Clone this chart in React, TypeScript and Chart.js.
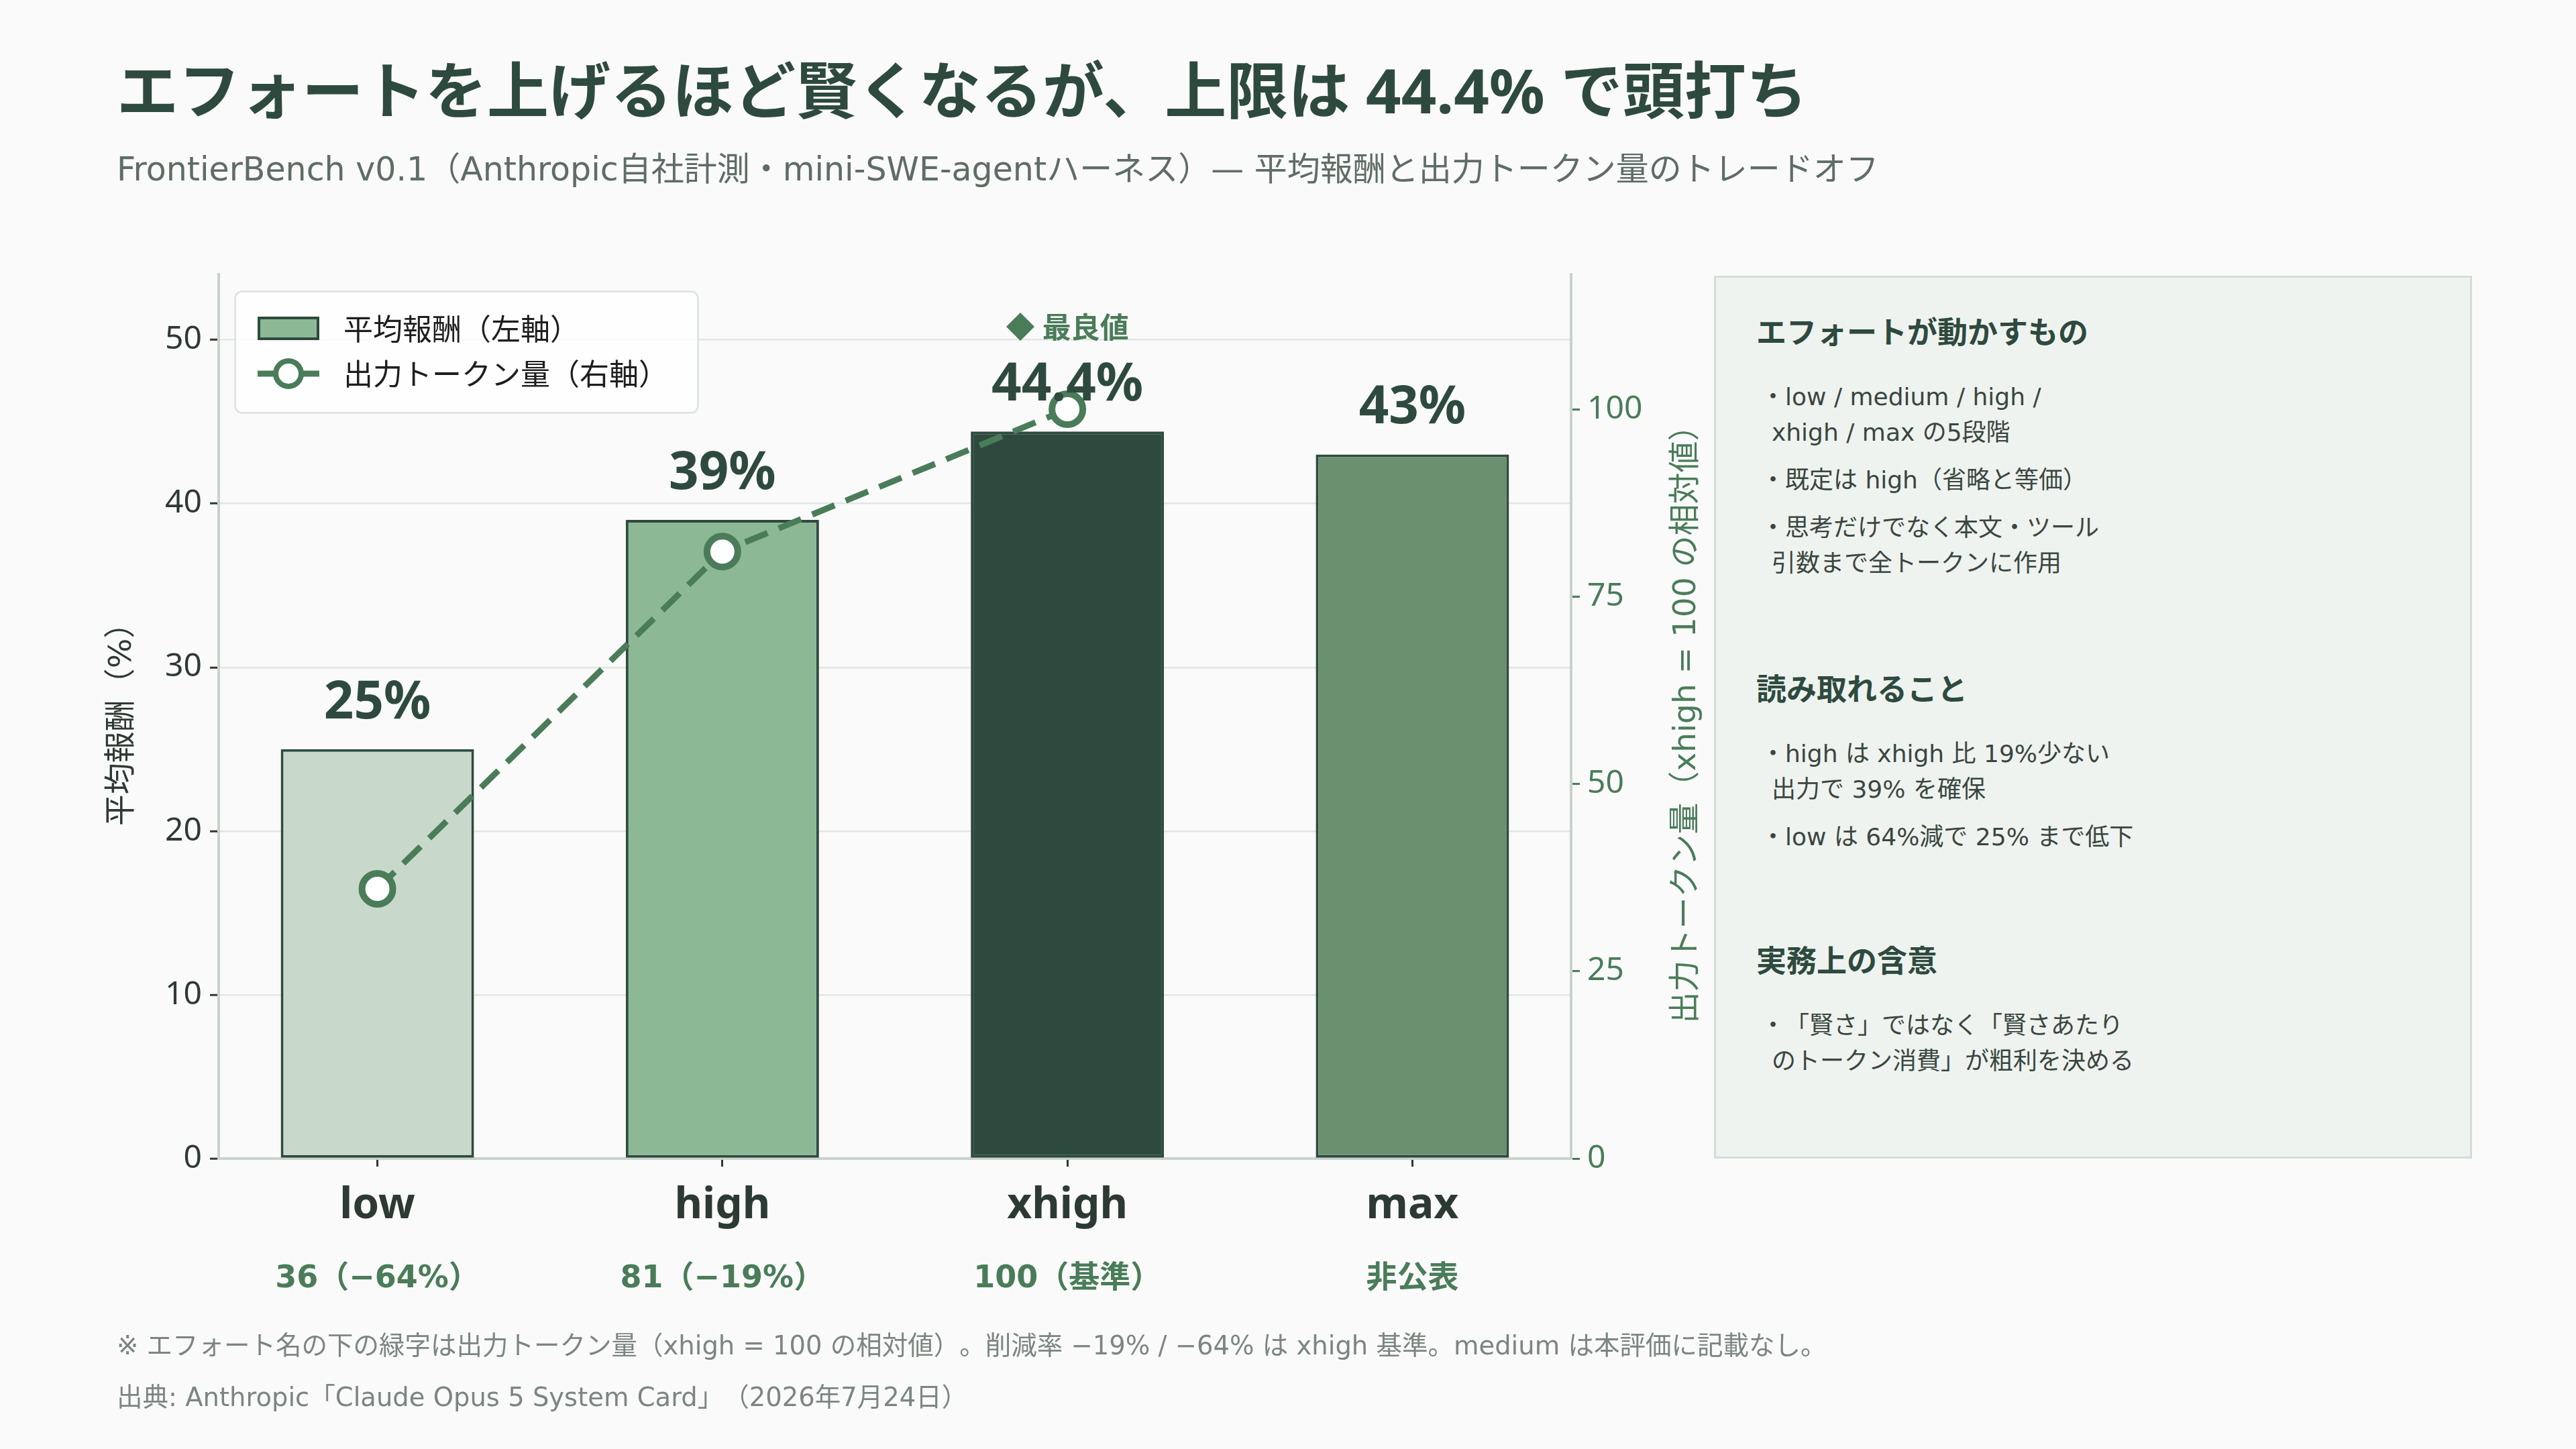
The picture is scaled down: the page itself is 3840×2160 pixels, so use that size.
import React, { useEffect, useRef } from "react";
import { Chart, registerables } from "chart.js";

Chart.register(...registerables);

// ---- data ----
const efforts = ["low", "high", "xhigh", "max"];
const avgReward = [25, 39, 44.4, 43];
const tokenIndex = [36, 81, 100]; // max: not published
const tokenLabels = ["36（−64%）", "81（−19%）", "100（基準）", "非公表"];
const rewardTicks = [0, 10, 20, 30, 40, 50];
const tokenTicks = [0, 25, 50, 75, 100];

const titleText = "エフォートを上げるほど賢くなるが、上限は 44.4% で頭打ち";
const subtitleText =
  "FrontierBench v0.1（Anthropic自社計測・mini-SWE-agentハーネス）— 平均報酬と出力トークン量のトレードオフ";
const leftAxisTitle = "平均報酬（%）";
const rightAxisTitle = "出力トークン量（xhigh = 100 の相対値）";
const barLegend = "平均報酬（左軸）";
const lineLegend = "出力トークン量（右軸）";
const bestLabel = "◆ 最良値";
const noteText =
  "※ エフォート名の下の緑字は出力トークン量（xhigh = 100 の相対値）。削減率 −19% / −64% は xhigh 基準。medium は本評価に記載なし。";
const sourceText = "出典: Anthropic「Claude Opus 5 System Card」（2026年7月24日）";

const panelSections = [
  {
    head: "エフォートが動かすもの",
    items: [
      ["・low / medium / high /", "xhigh / max の5段階"],
      ["・既定は high（省略と等価）"],
      ["・思考だけでなく本文・ツール", "引数まで全トークンに作用"],
    ],
  },
  {
    head: "読み取れること",
    items: [
      ["・high は xhigh 比 19%少ない", "出力で 39% を確保"],
      ["・low は 64%減で 25% まで低下"],
    ],
  },
  {
    head: "実務上の含意",
    items: [["・「賢さ」ではなく「賢さあたり", "のトークン消費」が粗利を決める"]],
  },
];

// ---- styling ----
const FONT = '"Noto Sans", "Noto Sans CJK JP", sans-serif';
const WIDE = '"DejaVu Sans", "Noto Sans CJK JP", sans-serif';
const DARK = "#2e4a3e";
const TXT = "#2d3a33";
const GREEN = "#4a7c59";
const AXIS = "#c7d3cb";
const GRID = "#e0e7e2";
const barFills = ["#c8d9cb", "#8cb896", "#2e4a3e", "#6b9070"];

const fmtPct = (v: number) => (Number.isInteger(v) ? `${v}%` : `${v.toFixed(1)}%`);

// value labels above bars + "best" marker
const valueLabels = {
  id: "valueLabels",
  afterDatasetsDraw(chart: any) {
    const ctx = chart.ctx;
    const meta = chart.getDatasetMeta(0);
    const best = avgReward.indexOf(Math.max(...avgReward));
    ctx.save();
    ctx.textAlign = "center";
    meta.data.forEach((bar: any, i: number) => {
      ctx.font = `bold 78px ${FONT}`;
      ctx.fillStyle = DARK;
      ctx.textBaseline = "alphabetic";
      ctx.fillText(fmtPct(avgReward[i]), bar.x, bar.y - 46);
      if (i === best) {
        ctx.font = `bold 43px ${FONT}`;
        ctx.fillStyle = GREEN;
        ctx.textBaseline = "middle";
        ctx.fillText(bestLabel, bar.x, bar.y - 152);
      }
    });
    ctx.restore();
  },
};

// right axis title, reading bottom-to-top
const rightTitle = {
  id: "rightTitle",
  afterDraw(chart: any) {
    const s = chart.scales.y2;
    const { ctx, chartArea } = chart;
    ctx.save();
    ctx.font = `47px ${WIDE}`;
    ctx.fillStyle = GREEN;
    ctx.textAlign = "center";
    ctx.textBaseline = "middle";
    ctx.translate(s.right - 28, (chartArea.top + chartArea.bottom) / 2);
    ctx.rotate(-Math.PI / 2);
    ctx.fillText(rightAxisTitle, 0, 0);
    ctx.restore();
  },
};

function line(
  text: string,
  left: number,
  cy: number,
  size: number,
  color: string,
  weight = 400,
  family = FONT,
  lh = 1.3
) {
  const h = Math.round(size * lh);
  return (
    <div
      key={`${text}-${cy}`}
      style={{
        position: "absolute",
        left,
        top: cy - h / 2,
        height: h,
        lineHeight: `${h}px`,
        fontSize: size,
        fontWeight: weight,
        fontFamily: family,
        color,
        whiteSpace: "nowrap",
      }}
    >
      {text}
    </div>
  );
}

export default function App() {
  const ref = useRef<HTMLCanvasElement | null>(null);

  useEffect(() => {
    if (!ref.current) return;
    Chart.defaults.font.family = FONT;
    const xTicks = (s: any) => {
      s.ticks = efforts.map((_, i) => ({ value: i }));
    };
    const chart = new Chart(ref.current, {
      data: {
        datasets: [
          {
            type: "bar",
            label: barLegend,
            data: efforts.map((_, i) => ({ x: i, y: avgReward[i] })),
            backgroundColor: barFills,
            borderColor: DARK,
            borderWidth: 4,
            borderSkipped: false,
            barPercentage: 0.56,
            categoryPercentage: 1,
            xAxisID: "x",
            yAxisID: "y",
            order: 1,
          },
          {
            type: "line",
            label: lineLegend,
            data: tokenIndex.map((v, i) => ({ x: i, y: v })),
            borderColor: GREEN,
            borderWidth: 9,
            borderDash: [36, 18],
            tension: 0,
            pointRadius: 23,
            pointBorderWidth: 10,
            pointBackgroundColor: "#ffffff",
            pointBorderColor: GREEN,
            xAxisID: "x",
            yAxisID: "y2",
            order: 0,
            clip: false,
          },
        ],
      } as any,
      options: {
        responsive: false,
        animation: false,
        devicePixelRatio: 1,
        layout: { padding: { left: 150, top: 409, right: 1297, bottom: 183 } },
        plugins: { legend: { display: false }, tooltip: { enabled: false } },
        scales: {
          x: {
            type: "linear",
            position: "bottom",
            min: -0.46,
            max: 3.46,
            offset: false,
            weight: 0,
            afterBuildTicks: xTicks,
            afterFit: (s: any) => {
              s.height = 130;
            },
            grid: {
              offset: false,
              drawOnChartArea: false,
              tickLength: 12,
              tickWidth: 3,
              tickColor: TXT,
            },
            border: { color: AXIS, width: 4 },
            ticks: {
              padding: 20,
              color: TXT,
              font: { size: 64, weight: "bold" },
              maxRotation: 0,
              autoSkip: false,
              callback: (v: any) => efforts[v] ?? "",
            },
          },
          x2: {
            type: "linear",
            position: "bottom",
            min: -0.46,
            max: 3.46,
            offset: false,
            weight: 1,
            afterBuildTicks: xTicks,
            afterFit: (s: any) => {
              s.height = 120;
            },
            grid: { display: false, drawTicks: false, offset: false },
            border: { display: false },
            ticks: {
              padding: 22,
              color: GREEN,
              font: { family: WIDE, size: 46, weight: "bold" },
              maxRotation: 0,
              autoSkip: false,
              callback: (v: any) => tokenLabels[v] ?? "",
            },
          },
          y: {
            type: "linear",
            position: "left",
            min: 0,
            max: 54,
            afterBuildTicks: (s: any) => {
              s.ticks = rewardTicks.map((v) => ({ value: v }));
            },
            afterFit: (s: any) => {
              s.width = 176;
            },
            grid: { color: GRID, lineWidth: 2.5, tickLength: 13, tickWidth: 3, tickColor: TXT },
            border: { color: AXIS, width: 4 },
            ticks: { padding: 12, color: TXT, font: { size: 48 } },
            title: {
              display: true,
              text: leftAxisTitle,
              color: TXT,
              font: { family: WIDE, size: 47 },
              padding: { top: 5, bottom: 0 },
            },
          },
          y2: {
            type: "linear",
            position: "right",
            min: 0,
            max: 118,
            afterBuildTicks: (s: any) => {
              s.ticks = tokenTicks.map((v) => ({ value: v }));
            },
            afterFit: (s: any) => {
              s.width = 201;
            },
            grid: { drawOnChartArea: false, tickLength: 13, tickWidth: 3, tickColor: GREEN },
            border: { color: AXIS, width: 4 },
            ticks: { padding: 11, color: GREEN, font: { size: 48 } },
          },
        },
      } as any,
      plugins: [valueLabels, rightTitle],
    });
    return () => chart.destroy();
  }, []);

  // side panel lines
  const panel: React.ReactNode[] = [];
  const headY = [494, 1026, 1431];
  panelSections.forEach((sec, si) => {
    panel.push(line(sec.head, 2618, headY[si], 45, DARK, 700));
    let y = headY[si] + 97;
    sec.items.forEach((item) => {
      item.forEach((t, li) => {
        panel.push(line(t, li === 0 ? 2625 : 2641, y, 36, "#3a4640", 400, WIDE));
        y += 53;
      });
      y += 18;
    });
  });

  return (
    <div
      style={{
        position: "absolute",
        left: 0,
        top: 0,
        width: 3840,
        height: 2160,
        background: "#fafafa",
        overflow: "hidden",
        fontFamily: FONT,
        textSpacingTrim: "space-all",
      } as any}
    >
      <canvas
        ref={ref}
        width={3840}
        height={2160}
        style={{ position: "absolute", left: 0, top: 0, width: 3840, height: 2160 }}
      />
      {line(titleText, 174, 134, 92, DARK, 700)}
      {line(subtitleText, 174, 253, 49, "#5e6d65", 400, WIDE)}

      {/* legend */}
      <div
        style={{
          position: "absolute",
          left: 349,
          top: 433,
          width: 693,
          height: 184,
          boxSizing: "border-box",
          border: "3px solid #dfe6e1",
          borderRadius: 12,
          background: "rgba(255,255,255,0.8)",
        }}
      />
      <div
        style={{
          position: "absolute",
          left: 384,
          top: 472,
          width: 92,
          height: 35,
          boxSizing: "border-box",
          background: barFills[1],
          border: `4px solid ${DARK}`,
        }}
      />
      {line(barLegend, 512, 490, 44, "#1e1e1e")}
      <svg style={{ position: "absolute", left: 384, top: 532 }} width={92} height={50}>
        <line x1={0} y1={25} x2={92} y2={25} stroke={GREEN} strokeWidth={9} />
        <circle cx={46} cy={25} r={19} fill="#ffffff" stroke={GREEN} strokeWidth={8} />
      </svg>
      {line(lineLegend, 512, 557, 44, "#1e1e1e")}

      {/* side panel */}
      <div
        style={{
          position: "absolute",
          left: 2555,
          top: 411,
          width: 1130,
          height: 1316,
          boxSizing: "border-box",
          background: "#eef3ef",
          border: "3px solid #d3ddd6",
        }}
      />
      {panel}

      {line(noteText, 174, 2006, 38.5, "#7b8680", 400, WIDE)}
      {line(sourceText, 174, 2083, 38.5, "#7b8680", 400, WIDE)}
    </div>
  );
}
